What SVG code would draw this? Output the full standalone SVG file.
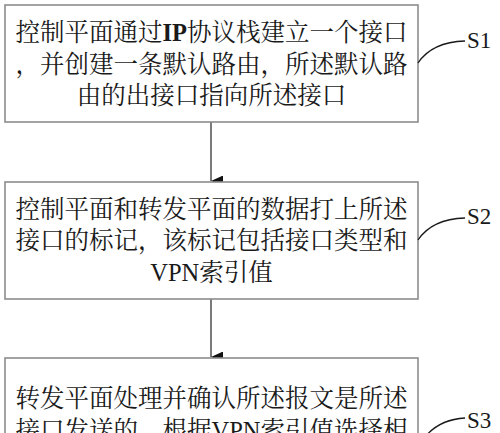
<svg xmlns="http://www.w3.org/2000/svg" width="500" height="433" viewBox="0 0 500 433">
<style>
.box{fill:#fff;stroke:#8c8c8c;stroke-width:1.6}
.t{font-family:"Liberation Serif","Noto Serif CJK SC","Noto Sans CJK SC",serif;font-size:24.5px;fill:#1a1a1a;text-anchor:middle}
.lbl{font-family:"Liberation Serif","Noto Sans CJK SC",serif;font-size:23px;fill:#1a1a1a}
.lead{fill:none;stroke:#1a1a1a;stroke-width:1.3}
.conn{stroke:#333;stroke-width:1.3}
</style>
<defs>
<marker id="ah" markerWidth="11" markerHeight="12" refX="5.5" refY="12" orient="auto" markerUnits="userSpaceOnUse" viewBox="0 0 11 12">
<path d="M0,0 L11,0 L5.5,12 Z" fill="#111"/>
</marker>
</defs>
<rect width="500" height="433" fill="#fff"/>
<g id="connectors">
<line class="conn" x1="211" y1="122" x2="211" y2="181" marker-end="url(#ah)"/>
<line class="conn" x1="211" y1="299" x2="211" y2="357" marker-end="url(#ah)"/>
</g>
<g id="S1">
<rect class="box" x="5" y="5" width="413" height="117"/>
<text class="t" x="211.5" y="41">控制平面通过<tspan font-weight="bold">IP</tspan>协议栈建立一个接口</text>
<text class="t" x="211.5" y="72.5">，并创建一条默认路由，所述默认路</text>
<text class="t" x="211.5" y="104">由的出接口指向所述接口</text>
<path class="lead" d="M418,63 Q432,42 465,41"/>
<text class="lbl" x="467" y="48">S1</text>
</g>
<g id="S2">
<rect class="box" x="5" y="182" width="413" height="117"/>
<text class="t" x="211.5" y="218">控制平面和转发平面的数据打上所述</text>
<text class="t" x="211.5" y="249">接口的标记，该标记包括接口类型和</text>
<text class="t" x="211.5" y="281">VPN索引值</text>
<path class="lead" d="M418,240 Q432,219 465,218"/>
<text class="lbl" x="467" y="224">S2</text>
</g>
<g id="S3">
<rect class="box" x="5" y="358" width="413" height="140"/>
<text class="t" x="211.5" y="407">转发平面处理并确认所述报文是所述</text>
<text class="t" x="211.5" y="439">接口发送的，根据VPN索引值选择相</text>
<path class="lead" d="M418,448 Q432,420 465,418"/>
<text class="lbl" x="467" y="428">S3</text>
</g>
</svg>
